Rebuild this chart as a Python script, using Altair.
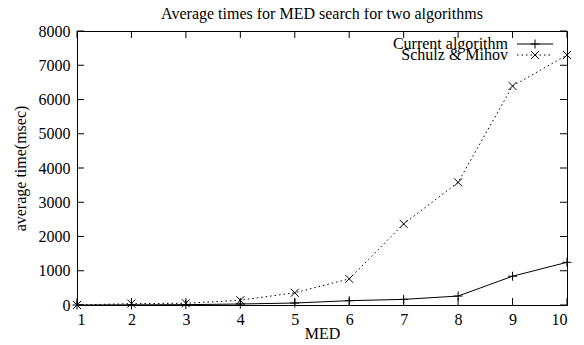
import altair as alt
import pandas as pd

# ---- data ----
med = [1, 2, 3, 4, 5, 6, 7, 8, 9, 10]
current_alg = [0, 5, 10, 29, 58, 126, 164, 261, 840, 1246]
schulz_mihov = [0, 40, 50, 140, 357, 763, 2367, 3582, 6394, 7300]
series_names = ["Current algorithm", "Schulz & Mihov"]
y_ticks = [0, 1000, 2000, 3000, 4000, 5000, 6000, 7000, 8000]

title_text = "Average times for MED search for two algorithms"
x_title = "MED"
y_title = "average time(msec)"

FONT = "Liberation Serif"
W, H = 490, 274
PLUS = "M-1,0L1,0M0,-1L0,1"
CROSS = "M-1,-1L1,1M-1,1L1,-1"

df = pd.DataFrame({
    "med": med * 2,
    "value": current_alg + schulz_mihov,
    "series": [series_names[0]] * len(med) + [series_names[1]] * len(med),
})
xt = pd.DataFrame({"med": med})
yt = pd.DataFrame({"value": y_ticks})

xscale = alt.Scale(domain=[1, 10], nice=False, zero=False)
yscale = alt.Scale(domain=[0, 8000], nice=False)

axis_style = dict(ticks=False, domain=False, grid=False,
                  labelFont=FONT, labelFontSize=16, labelColor="black",
                  titleFont=FONT, titleFontSize=16, titleFontWeight="normal",
                  titleColor="black", format="d")


def x_enc():
    return alt.X("med:Q", scale=xscale,
                 axis=alt.Axis(values=med, title=x_title, labelPadding=6,
                               titlePadding=-2, **axis_style))


def y_enc():
    return alt.Y("value:Q", scale=yscale,
                 axis=alt.Axis(values=y_ticks, title=y_title, labelPadding=7,
                               titlePadding=10, **axis_style))


base = alt.Chart(df)

line_cur = base.transform_filter(alt.datum.series == series_names[0]).mark_line(
    color="black", strokeWidth=1).encode(x=x_enc(), y=y_enc())
line_sm = base.transform_filter(alt.datum.series == series_names[1]).mark_line(
    color="black", strokeWidth=1, strokeDash=[1.5, 3]).encode(x=x_enc(), y=y_enc())
pts_cur = base.transform_filter(alt.datum.series == series_names[0]).mark_point(
    shape=PLUS, filled=False, color="black", strokeWidth=1, size=81, opacity=1).encode(
    x=x_enc(), y=y_enc())
pts_sm = base.transform_filter(alt.datum.series == series_names[1]).mark_point(
    shape=CROSS, filled=False, color="black", strokeWidth=1, size=64, opacity=1).encode(
    x=x_enc(), y=y_enc())

# inward ticks (gnuplot style) on all four sides
tick_style = dict(color="black", strokeWidth=1)
xb = alt.Chart(xt).mark_rule(**tick_style).encode(
    x=x_enc(), y=alt.value(H), y2=alt.value(H - 7))
xtop = alt.Chart(xt).mark_rule(**tick_style).encode(
    x=x_enc(), y=alt.value(0), y2=alt.value(7))
yl = alt.Chart(yt).mark_rule(**tick_style).encode(
    y=y_enc(), x=alt.value(0), x2=alt.value(7))
yr = alt.Chart(yt).mark_rule(**tick_style).encode(
    y=y_enc(), x=alt.value(W - 7), x2=alt.value(W))

# chart title as text centred over the plot
title_layer = alt.Chart(pd.DataFrame({"t": [title_text]})).mark_text(
    font=FONT, fontSize=16, align="center", baseline="alphabetic", color="black").encode(
    text="t:N", x=alt.value(W / 2), y=alt.value(-12))

# in-plot key (top right)
leg_layers = []
for i, (name, shape, dash, sz) in enumerate(
        [(series_names[0], PLUS, [1, 0], 81), (series_names[1], CROSS, [1.5, 3], 64)]):
    ry = 13 + i * 11
    one = pd.DataFrame({"label": [name]})
    leg_layers.append(alt.Chart(one).mark_text(
        font=FONT, fontSize=16, align="right", baseline="middle", color="black").encode(
        text="label:N", x=alt.value(431), y=alt.value(ry)))
    leg_layers.append(alt.Chart(one).mark_rule(
        color="black", strokeWidth=1, strokeDash=dash).encode(
        x=alt.value(440), x2=alt.value(476), y=alt.value(ry)))
    leg_layers.append(alt.Chart(one).mark_point(
        shape=shape, filled=False, color="black", strokeWidth=1, size=sz, opacity=1).encode(
        x=alt.value(458), y=alt.value(ry)))

chart = alt.layer(line_cur, line_sm, pts_cur, pts_sm, xb, xtop, yl, yr,
                  title_layer, *leg_layers).properties(
    width=W, height=H,
    autosize=alt.AutoSizeParams(type="none"),
    padding={"left": 69, "top": 23, "right": 9, "bottom": 40},
    background="white",
).configure_view(stroke="black", strokeWidth=1, fill=None)

chart.save("out.html", embed_options={"renderer": "svg", "actions": False})
